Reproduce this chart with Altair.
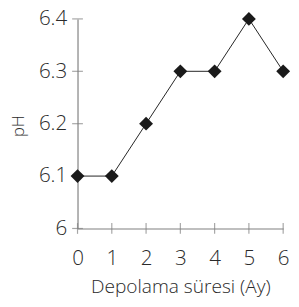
import altair as alt
import pandas as pd

months = [0, 1, 2, 3, 4, 5, 6]
ph = [6.1, 6.1, 6.2, 6.3, 6.3, 6.4, 6.3]
x_ticks = [0, 1, 2, 3, 4, 5, 6]
y_ticks = [6.0, 6.1, 6.2, 6.3, 6.4]

df = pd.DataFrame({"month": months, "ph": ph})
xt = pd.DataFrame({"month": x_ticks, "ph": [6.0] * len(x_ticks)})
yt = pd.DataFrame({"month": [0] * len(y_ticks), "ph": y_ticks})

FONT = "Open Sans"
AX = "#808080"
TXT = "#2a2a2a"

xs = alt.Scale(domain=[0, 6], nice=False, zero=False)
ys = alt.Scale(domain=[6.0, 6.4], nice=False, zero=False)

x_axis = alt.Axis(
    values=x_ticks, format="d", title="Depolama süresi (Ay)",
    ticks=False, grid=False, domainColor=AX, domainWidth=1.2,
    labelFont=FONT, labelFontSize=21, labelFontWeight=300, labelColor=TXT, labelPadding=20,
    labelOverlap=False, labelFlush=False,
    titleFont=FONT, titleFontSize=19.5, titleFontWeight=300, titleColor=TXT,
    titlePadding=9,
)
y_axis = alt.Axis(
    values=y_ticks, title="pH",
    labelExpr="datum.value == 6 ? '6' : format(datum.value, '.1f')",
    ticks=False, grid=False, domainColor=AX, domainWidth=1.2,
    labelFont=FONT, labelFontSize=21, labelFontWeight=300, labelColor=TXT, labelPadding=11,
    labelOverlap=False, labelFlush=False,
    titleFont=FONT, titleFontSize=17, titleFontWeight=300, titleColor=TXT,
    titleX=-60, titleY=109, titleBaseline="middle", titleAngle=-90,
)

X = alt.X("month:Q", scale=xs, axis=x_axis)
Y = alt.Y("ph:Q", scale=ys, axis=y_axis)

line = alt.Chart(df).mark_line(color="#222222", strokeWidth=1).encode(x=X, y=Y)
pts = alt.Chart(df).mark_point(shape="diamond", filled=True, size=200, color="#1a1a1a", opacity=1).encode(x=X, y=Y)
xtk = alt.Chart(xt).mark_tick(orient="vertical", size=11, thickness=1.2, color=AX).encode(x=X, y=Y)
ytk = alt.Chart(yt).mark_tick(orient="horizontal", size=11, thickness=1.2, color=AX).encode(x=X, y=Y)

chart = alt.layer(xtk, ytk, line, pts).properties(
    width=210, height=214,
    autosize=alt.AutoSizeParams(type="none"),
    padding={"left": 71, "top": 8, "right": 8, "bottom": 75},
).configure_view(stroke=None)

chart.save("out.html", embed_options={"renderer": "svg", "actions": False})
